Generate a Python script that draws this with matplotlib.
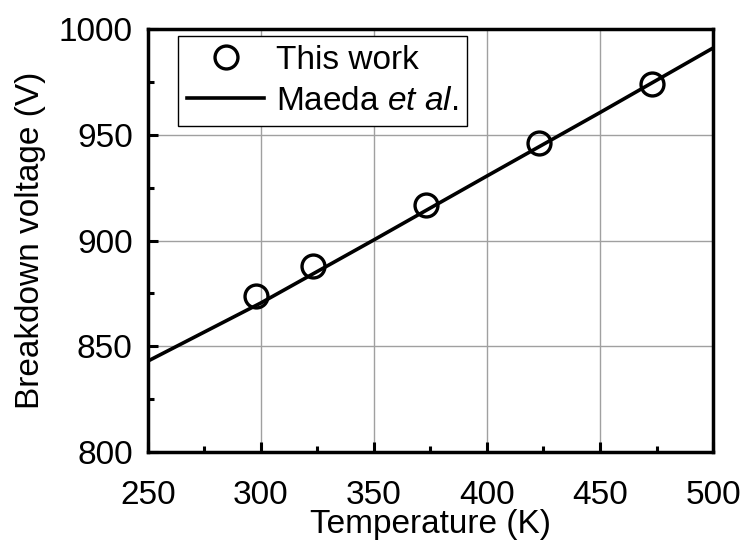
import matplotlib
matplotlib.use("Agg")
import matplotlib.pyplot as plt
from matplotlib.ticker import MultipleLocator

plt.rcParams["font.family"] = ["Liberation Sans", "DejaVu Sans"]
plt.rcParams["mathtext.fontset"] = "custom"
plt.rcParams["mathtext.rm"] = "Liberation Sans"
plt.rcParams["mathtext.it"] = "Liberation Sans:italic"

# Measured breakdown voltages
temp_meas = [298, 323, 373, 423, 473]
bv_meas = [874, 888, 917, 946, 974]

# Model curve (Maeda et al.)
temp_model = [250, 300, 350, 400, 450, 500]
bv_model = [843, 870.5, 900.3, 930.5, 960.5, 991]

FS = 24

fig = plt.figure(figsize=(7.47, 5.45), dpi=100)
ax = fig.add_axes([0.198, 0.1706, 0.7565, 0.7762])

ax.grid(True, color="#a0a0a0", linewidth=1.0, zorder=0)
ax.plot(temp_model, bv_model, color="black", linewidth=2.6, zorder=3,
        label=r"Maeda $\it{et\ al}$.")
ax.plot(temp_meas, bv_meas, linestyle="none", marker="o", markersize=16.5,
        markerfacecolor="none", markeredgecolor="black", markeredgewidth=2.4,
        zorder=4, label="This work")

ax.set_xlim(250, 500)
ax.set_ylim(800, 1000)
ax.xaxis.set_major_locator(MultipleLocator(50))
ax.xaxis.set_minor_locator(MultipleLocator(25))
ax.yaxis.set_major_locator(MultipleLocator(50))
ax.yaxis.set_minor_locator(MultipleLocator(25))

for s in ax.spines.values():
    s.set_linewidth(2.5)

ax.tick_params(axis="both", which="major", direction="in", length=7, width=2.2,
               labelsize=FS, top=False, right=False)
ax.tick_params(axis="both", which="minor", direction="in", length=4, width=2.2,
               top=False, right=False)
ax.tick_params(axis="x", which="major", pad=20)
ax.tick_params(axis="y", which="major", pad=11)

ax.set_xlabel("Temperature (K)", fontsize=FS, labelpad=-1)
ax.set_ylabel("Breakdown voltage (V)", fontsize=FS, labelpad=9)

handles, labels = ax.get_legend_handles_labels()
leg = ax.legend(handles[::-1], labels[::-1], loc="upper left", fontsize=FS,
                frameon=True, fancybox=False, edgecolor="black",
                framealpha=1, borderpad=0.28, handlelength=2.3,
                handletextpad=0.35, labelspacing=0.3,
                bbox_to_anchor=(0.053, 0.984), borderaxespad=0)
leg.get_frame().set_linewidth(1.0)

fig.savefig("out.png", dpi=100)
